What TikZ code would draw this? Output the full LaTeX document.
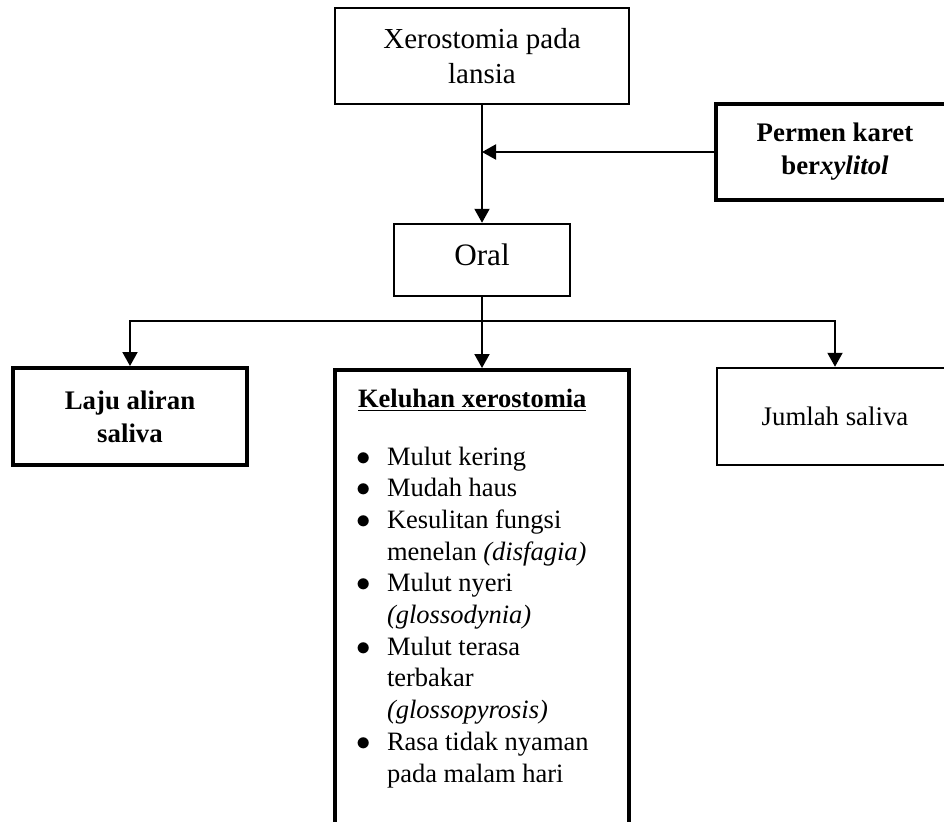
\documentclass[tikz,border=0pt]{standalone}
\usepackage{fontspec}
\setmainfont{Liberation Serif}
\usetikzlibrary{positioning,arrows.meta}
\tikzset{
>={Triangle[length=7pt,width=7.5pt]},
x=0.5pt, y=-0.5pt,
box/.style={draw, line width=1.25pt, align=center, inner sep=0pt,
  font=\fontsize{13.4}{16}\selectfont},
boldbox/.style={box, line width=2pt, font=\fontsize{13.4}{16.5}\selectfont\bfseries},
listbox/.style={draw, line width=2pt, anchor=north, inner xsep=11.5pt, inner ysep=7.4pt,
  font=\fontsize{13.25}{15.85}\selectfont},
link/.style={->, line width=1pt},
}
\newcommand{\bul}{\hspace{-1pt}$\bullet$}

\begin{document}
\begin{tikzpicture}
    \useasboundingbox (0,0) rectangle (944,821);
    \clip (0,0) rectangle (944,821);
    \node[box, minimum width=147pt, minimum height=48pt, font=\fontsize{14.5}{17.5}\selectfont] (xero) at (482,56) {Xerostomia pada\\lansia};
    \node[box, minimum width=88pt, minimum height=36pt, text depth=5pt, font=\fontsize{15.6}{18}\selectfont] (oral) [below of=xero, node distance=102pt] {Oral};
    \node[boldbox, minimum width=119pt, minimum height=48pt] (permen) at (835,152) {Permen karet\\ber\textit{xylitol}};
    \node[boldbox, minimum width=117pt, minimum height=48.5pt] (laju) at (130,416.5) {Laju aliran\\saliva};
    \node[box, minimum width=118pt, minimum height=48.5pt] (jumlah) [right of=laju, node distance=352.5pt] {Jumlah saliva};
    % kotak keluhan, bawahnya terpotong
    \node[listbox] (keluhan) at (482,368) {\begin{minipage}[c][226pt][t]{124pt}
\noindent\begin{tabular}[t]{@{}p{14.5pt}@{}l@{}}
\multicolumn{2}{@{}l@{}}{\textbf{\underline{Keluhan xerostomia}}}\\[13.15pt]
\bul & Mulut kering\\
\bul & Mudah haus\\
\bul & Kesulitan fungsi\\
 & menelan \textit{(disfagia)}\\
\bul & Mulut nyeri\\
 & \textit{(glossodynia)}\\
\bul & Mulut terasa\\
 & terbakar\\
 & \textit{(glossopyrosis)}\\
\bul & Rasa tidak nyaman\\
 & pada malam hari
\end{tabular}
\end{minipage}};
    \coordinate[below=12pt of oral] (fork);
    \draw[link] (xero) edge (oral);
    \draw[link] (permen.west) -- (permen.west -| xero.south);
    \draw[link] (oral) edge (keluhan);
    % cabang kiri dan kanan
    \draw[link] (fork) -| (laju);
    \draw[link] (fork) -| (jumlah);
\end{tikzpicture}
\end{document}
